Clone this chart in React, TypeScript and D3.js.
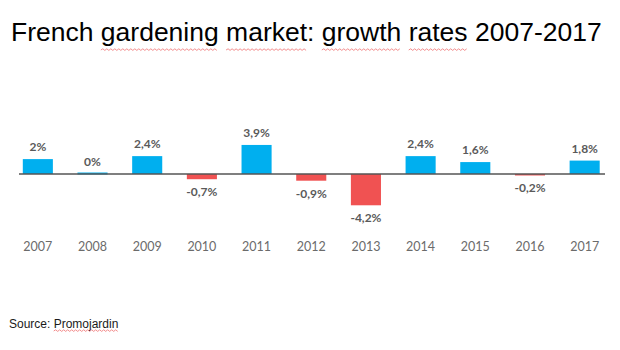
import React, { useEffect, useRef, useState } from "react";
import * as d3 from "d3";

const years = ["2007","2008","2009","2010","2011","2012","2013","2014","2015","2016","2017"];
const growth = [2, 0, 2.4, -0.7, 3.9, -0.9, -4.2, 2.4, 1.6, -0.2, 1.8];
const valueLabels = ["2%","0%","2,4%","-0,7%","3,9%","-0,9%","-4,2%","2,4%","1,6%","-0,2%","1,8%"];
const title = "French gardening market: growth rates 2007-2017";
const squiggleWords = ["gardening", "market", "growth", "rates"];
const sourcePrefix = "Source: ";
const sourceName = "Promojardin";

const W = 620, H = 350;
const BLUE = "#00AFEF";
const RED = "#F05252";

function wavePath(x0: number, x1: number, y: number) {
  let d = `M${x0},${y}`;
  let up = true;
  for (let x = x0 + 2; x <= x1; x += 2) {
    d += ` L${x},${up ? y - 1.2 : y + 0.4}`;
    up = !up;
  }
  return d;
}

export default function App() {
  const titleRef = useRef<SVGTextElement>(null);
  const srcRef = useRef<SVGTextElement>(null);
  const [waves, setWaves] = useState<string[]>([]);

  const x = d3.scaleBand<string>().domain(years).range([10.5, 612]).paddingInner(0.45).paddingOuter(0.225);
  const y = d3.scaleLinear().domain([-5, 5]).range([174 + 37.25, 174 - 37.25]);
  const y0 = y(0);

  useEffect(() => {
    const out: string[] = [];
    const t = titleRef.current;
    if (t) {
      squiggleWords.forEach((w) => {
        const i = title.indexOf(w);
        if (i >= 0) {
          const s = t.getStartPositionOfChar(i).x;
          const e = t.getEndPositionOfChar(i + w.length - 1).x;
          out.push(wavePath(s, e, 50));
        }
      });
    }
    const s = srcRef.current;
    if (s) {
      const i = sourcePrefix.length;
      const a = s.getStartPositionOfChar(i).x;
      const b = s.getEndPositionOfChar(i + sourceName.length - 1).x;
      out.push(wavePath(a, b, 331));
    }
    setWaves(out);
  }, []);

  return (
    <svg width={W} height={H} style={{ position: "absolute", left: 0, top: 0, background: "#fff" }}>
      <rect width={W} height={H} fill="#fff" />
      <text ref={titleRef} x={11} y={41} fontFamily="Liberation Sans, Arial, sans-serif" fontSize={26.5} fill="#000">
        {title}
      </text>
      {years.map((yr, i) => {
        const v = growth[i];
        const top = v >= 0 ? y(v) : y0;
        const h = Math.abs(y(v) - y0);
        return (
          <g key={yr}>
            <rect
              x={x(yr)!}
              y={v === 0 ? y0 - 1.5 : top}
              width={x.bandwidth()}
              height={v === 0 ? 2 : h}
              fill={v >= 0 ? BLUE : RED}
            />
            <text
              x={x(yr)! + x.bandwidth() / 2}
              y={v >= 0 ? y(v) - 8 : y(v) + 17}
              textAnchor="middle"
              fontFamily="Lato, 'Open Sans', sans-serif"
              fontSize={12}
              fontWeight={700}
              fill="#5a5a5a"
            >
              {valueLabels[i]}
            </text>
            <text
              x={x(yr)! + x.bandwidth() / 2}
              y={251}
              textAnchor="middle"
              fontFamily="Lato, 'Open Sans', sans-serif"
              fontSize={12.5}
              fill="#6b6b6b"
            >
              {yr}
            </text>
          </g>
        );
      })}
      <line x1={19} x2={605} y1={y0} y2={y0} stroke="#555" strokeWidth={1.3} />
      <text ref={srcRef} x={9} y={328} fontFamily="Liberation Sans, Arial, sans-serif" fontSize={12} fill="#1a1a1a">
        {sourcePrefix + sourceName}
      </text>
      {waves.map((d, i) => (
        <path key={i} d={d} fill="none" stroke="#F08080" strokeWidth={0.9} />
      ))}
    </svg>
  );
}
